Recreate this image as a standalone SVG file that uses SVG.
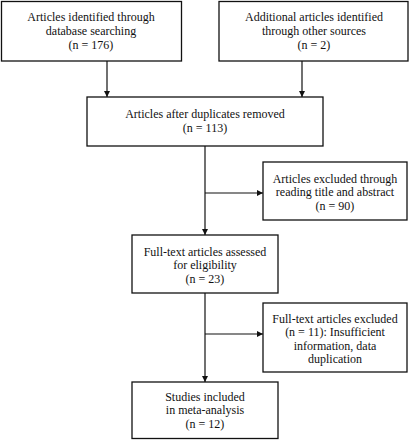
<svg xmlns="http://www.w3.org/2000/svg" width="410" height="440" viewBox="0 0 410 440">
<defs>
<marker id="ah" markerWidth="6" markerHeight="6" refX="6" refY="3" orient="auto" markerUnits="userSpaceOnUse">
<path d="M0,0 L6,3 L0,6 Z" fill="#111"/>
</marker>
<style>
rect{fill:#fff;stroke:#111;stroke-width:1.3}
text{font-size:12px;fill:#111;text-anchor:middle}
.c line{stroke:#111;stroke-width:1.2;fill:none}
</style>
</defs>
<rect x="0" y="0" width="410" height="440" style="fill:#fff;stroke:none"/>
<g class="c" id="connectors">
<line x1="107" y1="61" x2="107" y2="97" marker-end="url(#ah)"/>
<line x1="302" y1="61" x2="302" y2="97" marker-end="url(#ah)"/>
<line x1="205" y1="146" x2="205" y2="235" marker-end="url(#ah)"/>
<line x1="205" y1="193" x2="263" y2="193" marker-end="url(#ah)"/>
<line x1="205" y1="293" x2="205" y2="382" marker-end="url(#ah)"/>
<line x1="205" y1="334" x2="263" y2="334" marker-end="url(#ah)"/>
</g>
<g font-family="'Liberation Serif', 'Times New Roman', 'DejaVu Serif', serif">
<g id="n1">
<rect x="1.5" y="1.5" width="180" height="59.5"/>
<text x="91" y="21">Articles identified through</text>
<text x="91" y="35">database searching</text>
<text x="91" y="49">(n = 176)</text>
</g>
<g id="n2">
<rect x="219" y="1.5" width="189" height="59.5"/>
<text x="314" y="21">Additional articles identified</text>
<text x="314" y="35">through other sources</text>
<text x="314" y="49">(n = 2)</text>
</g>
<g id="n3">
<rect x="87" y="97" width="236" height="49"/>
<text x="205" y="118">Articles after duplicates removed</text>
<text x="205" y="131.5">(n = 113)</text>
</g>
<g id="n4">
<rect x="263" y="162" width="144" height="58"/>
<text x="335" y="182.5">Articles excluded through</text>
<text x="335" y="196">reading title and abstract</text>
<text x="335" y="209.5">(n = 90)</text>
</g>
<g id="n5">
<rect x="132" y="235" width="146" height="58"/>
<text x="205" y="255.5">Full-text articles assessed</text>
<text x="205" y="269">for eligibility</text>
<text x="205" y="282.5">(n = 23)</text>
</g>
<g id="n6">
<rect x="263" y="303" width="144" height="69"/>
<text x="335" y="322.5">Full-text articles excluded</text>
<text x="335" y="336">(n = 11): Insufficient</text>
<text x="335" y="349.5">information, data</text>
<text x="335" y="363">duplication</text>
</g>
<g id="n7">
<rect x="132" y="382" width="146" height="56.5"/>
<text x="205" y="400.5">Studies included</text>
<text x="205" y="414">in meta-analysis</text>
<text x="205" y="427.5">(n = 12)</text>
</g>
</g>
</svg>
